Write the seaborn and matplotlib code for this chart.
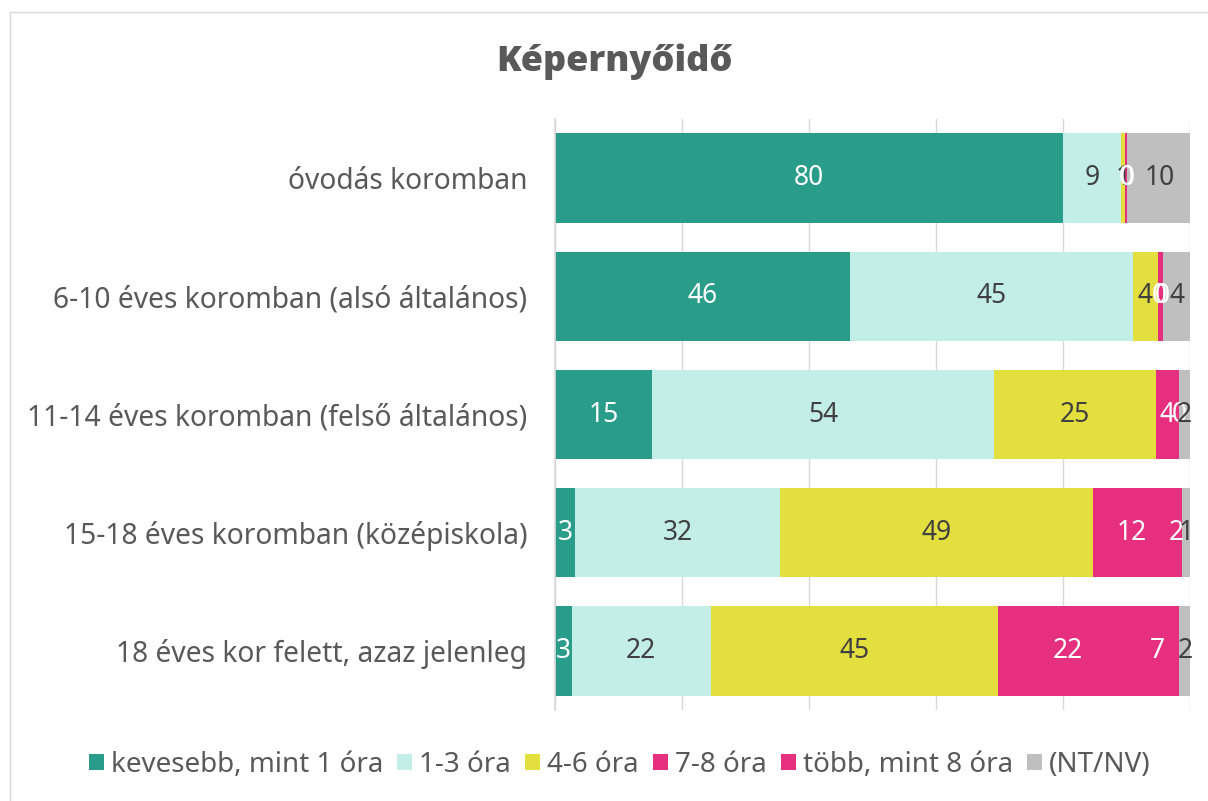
import matplotlib
matplotlib.use("Agg")
import matplotlib.pyplot as plt
import seaborn as sns
import pandas as pd
import numpy as np
from matplotlib.patches import Rectangle

categories = [
    "óvodás koromban",
    "6-10 éves koromban (alsó általános)",
    "11-14 éves koromban (felső általános)",
    "15-18 éves koromban (középiskola)",
    "18 éves kor felett, azaz jelenleg",
]
series_names = ["kevesebb, mint 1 óra", "1-3 óra", "4-6 óra", "7-8 óra", "több, mint 8 óra", "(NT/NV)"]
kevesebb_1 = [80.0, 46.4, 15.3, 3.2, 2.6]
ora_1_3 = [9.2, 44.6, 53.9, 32.2, 21.9]
ora_4_6 = [0.6, 3.9, 25.4, 49.3, 45.3]
ora_7_8 = [0.2, 0.45, 3.6, 12.3, 21.8]
tobb_8 = [0.1, 0.45, 0.1, 1.7, 6.6]
nt_nv = [10.2, 4.2, 1.7, 1.4, 2.0]

colors = ["#2a9d8a", "#c2eee7", "#e3df3f", "#e6307f", "#e6307f", "#bfbfbf"]
label_colors = ["white", "#404040", "#404040", "white", "white", "#404040"]

sns.set_theme(style="white")
plt.rcParams["font.family"] = ["Noto Sans", "DejaVu Sans"]

data = np.array([kevesebb_1, ora_1_3, ora_4_6, ora_7_8, tobb_8, nt_nv])
cum = np.cumsum(data, axis=0)

fig = plt.figure(figsize=(12.08, 8.01), dpi=100)
ax = fig.add_axes([555 / 1208, 1 - 710 / 801, 635 / 1208, 591 / 801])

for i in range(len(series_names) - 1, -1, -1):
    df = pd.DataFrame({"cat": categories, "val": cum[i]})
    sns.barplot(data=df, x="val", y="cat", color=colors[i], saturation=1,
                width=0.755, ax=ax, label=series_names[i], linewidth=0)

ax.set_xlim(0, 100)
ax.set_xticks(np.arange(0, 101, 20))
ax.set_xticklabels([])
ax.set_xlabel("")
ax.set_ylabel("")
ax.grid(axis="x", color="#d9d9d9", linewidth=1)
ax.set_axisbelow(True)
for s in ["top", "right", "bottom"]:
    ax.spines[s].set_visible(False)
ax.spines["left"].set_color("#d9d9d9")
ax.tick_params(axis="y", length=0, pad=20, labelsize=20.3, labelcolor="#595959")
ax.tick_params(axis="x", length=0)

for i in range(len(series_names)):
    starts = cum[i] - data[i]
    for j in range(len(categories)):
        ax.text(starts[j] + data[i][j] / 2, j, f"{data[i][j]:.0f}", ha="center", va="center",
                fontsize=19, color=label_colors[i])

# legend
handles, labels = ax.get_legend_handles_labels()
order = [labels.index(n) for n in series_names]
if ax.legend_:
    ax.legend_.remove()
fig.legend([handles[k] for k in order], [labels[k] for k in order], loc="center",
           bbox_to_anchor=(0.513, 0.045), ncol=6, frameon=False, fontsize=20,
           handlelength=0.55, handleheight=0.55, handletextpad=0.25, columnspacing=0.5,
           labelcolor="#595959")

fig.text(0.509, 1 - 62 / 801, "Képernyőidő", ha="center", va="center", fontsize=26,
         fontweight="heavy", color="#595959", family=["Open Sans", "DejaVu Sans"])

fig.patches.append(Rectangle((10 / 1208, -0.01), 1.0, 1 - 12 / 801 + 0.01, transform=fig.transFigure,
                             fill=False, edgecolor="#d9d9d9", linewidth=1))

fig.savefig("out.png", dpi=100)
